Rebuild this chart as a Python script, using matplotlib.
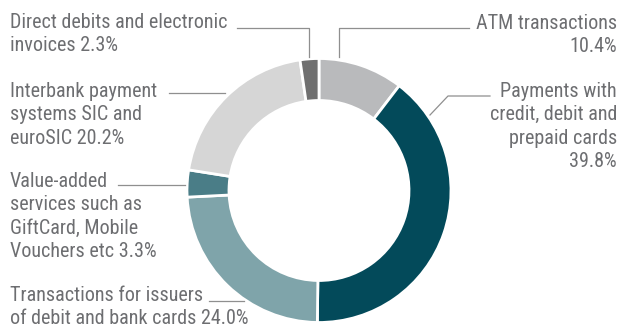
import matplotlib
matplotlib.use("Agg")
import matplotlib.pyplot as plt

labels = ["ATM transactions\n10.4%",
          "Payments with\ncredit, debit and\nprepaid cards\n39.8%",
          "Transactions for issuers\nof debit and bank cards 24.0%",
          "Value-added\nservices such as\nGiftCard, Mobile\nVouchers etc 3.3%",
          "Interbank payment\nsystems SIC and\neuroSIC 20.2%",
          "Direct debits and electronic\ninvoices 2.3%"]
values = [10.4, 39.8, 24.0, 3.3, 20.2, 2.3]
colors = ["#b9babc", "#034a5a", "#7fa4aa", "#4a7d87", "#d6d6d6", "#707070"]

plt.rcParams['font.family'] = ["Roboto Condensed", "DejaVu Sans"]

W, H = 619, 327
fig = plt.figure(figsize=(W/100, H/100), dpi=100)
ax = fig.add_axes([0, 0, 1, 1])

cx, cy, R = 319, 190.5, 132
# y axis is inverted (pixel coords), so counterclock=True appears clockwise
ax.pie(values, colors=colors, startangle=-90, counterclock=True,
       radius=R, center=(cx, cy), frame=True,
       wedgeprops=dict(width=R - 90, edgecolor="white", linewidth=2))
ax.set_xlim(0, W)
ax.set_ylim(H, 0)
ax.axis("off")
ax.set_aspect("equal")

tc = "#6d6e71"
fs = 14.5
pitch = 23.3
# (x, first baseline, ha) for each label
pos = [(617, 29, "right"), (617, 97, "right"), (10, 301, "left"),
       (10, 187, "left"), (10, 97, "left"), (10, 28, "left")]
for lab, (x, y0, ha) in zip(labels, pos):
    for i, line in enumerate(lab.split("\n")):
        ax.text(x, y0 + i * pitch, line, ha=ha, va="baseline", color=tc, fontsize=fs)

lc = "#8f8f8f"
lw = 0.9
ax.plot([469, 339, 339], [28, 28, 57], color=lc, lw=lw)
ax.plot([490, 448, 430], [96, 96, 115], color=lc, lw=lw)
ax.plot([209, 244], [301, 301], color=lc, lw=lw)
ax.plot([118, 185], [185, 185], color=lc, lw=lw)
ax.plot([169, 225], [93, 93], color=lc, lw=lw)
ax.plot([237, 309, 309], [28, 28, 57], color=lc, lw=lw)

fig.savefig("out.png", dpi=100, facecolor="white")
